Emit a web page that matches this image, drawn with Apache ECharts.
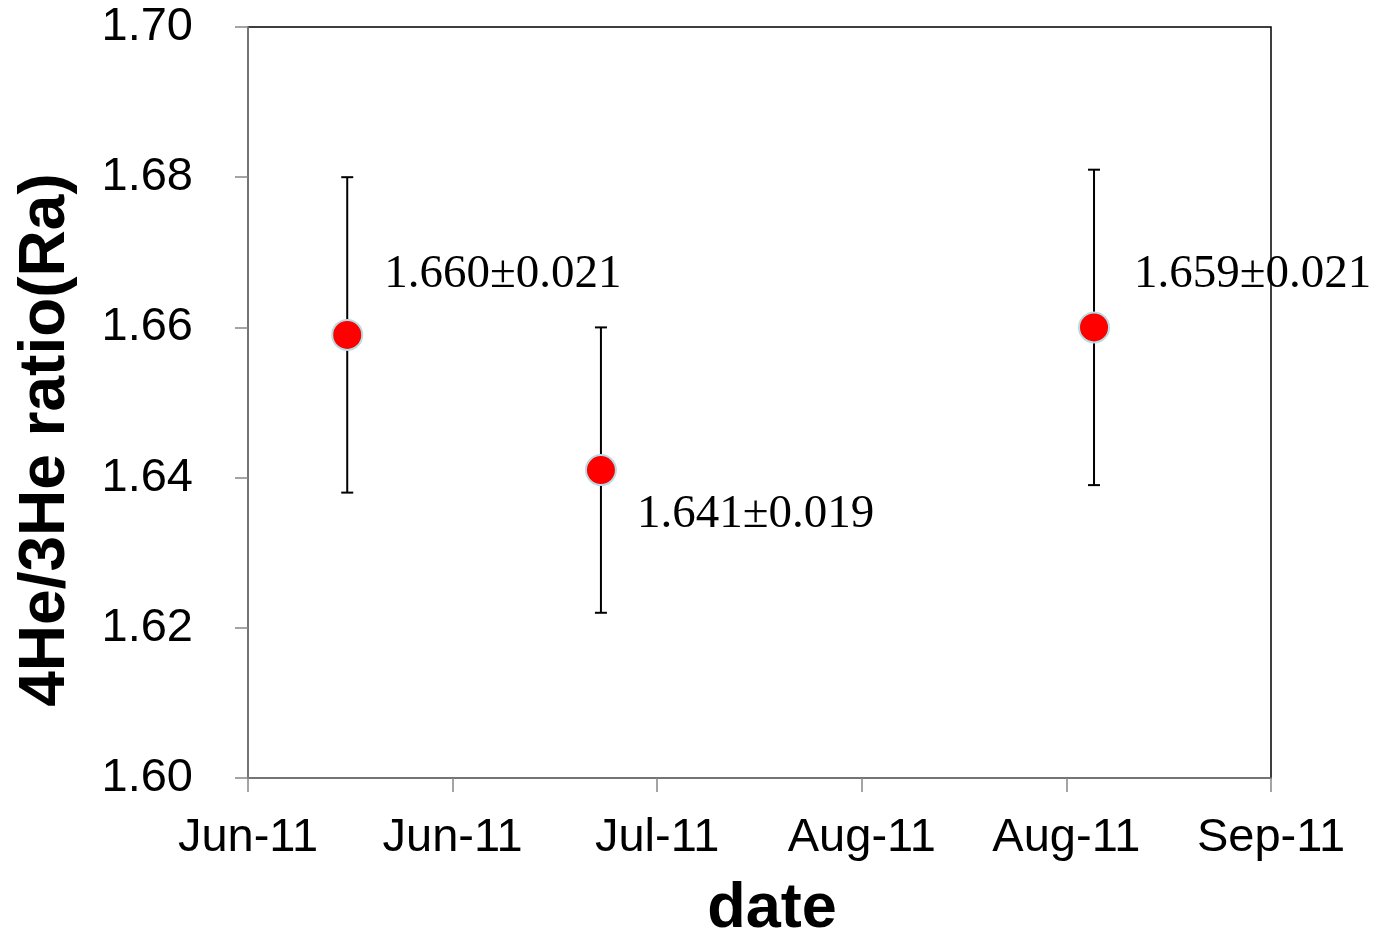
<!DOCTYPE html>
<html>
<head>
<meta charset="utf-8">
<script src="https://cdn.jsdelivr.net/npm/echarts@6/dist/echarts.min.js"></script>
<style>html,body{margin:0;padding:0;background:#fff;}#c{width:1381px;height:936px;}</style>
</head>
<body>
<div id="c"></div>
<script>
// x positions: days after axis start (axis ticks every 20 days)
var dayOffsets = [9.7, 34.5, 82.7];
var ratioValues = [1.659, 1.641, 1.660];
var ratioErrors = [0.021, 0.019, 0.021];
var pointLabels = ['1.660\u00B10.021', '1.641\u00B10.019', '1.659\u00B10.021'];
var xTickLabels = ['Jun-11', 'Jun-11', 'Jul-11', 'Aug-11', 'Aug-11', 'Sep-11'];
var yTickLabels = ['1.60', '1.62', '1.64', '1.66', '1.68', '1.70'];

var labelOffsets = [[21, -60], [20, 45], [24, -53]];

var chart = echarts.init(document.getElementById('c'), null, {renderer: 'canvas'});

var scatterData = dayOffsets.map(function (d, i) {
  return {
    value: [d, ratioValues[i]],
    label: {
      show: true,
      formatter: pointLabels[i],
      position: 'right',
      distance: 0,
      offset: labelOffsets[i]
    }
  };
});
var errData = dayOffsets.map(function (d, i) {
  return [d, ratioValues[i] - ratioErrors[i], ratioValues[i] + ratioErrors[i]];
});

chart.setOption({
  animation: false,
  grid: {left: 248, right: 110, top: 27, bottom: 158, show: true, borderColor: '#000', borderWidth: 1.5, backgroundColor: 'transparent'},
  xAxis: {
    type: 'value', min: 0, max: 100, interval: 20,
    splitLine: {show: false},
    axisLine: {show: true, lineStyle: {color: '#868686', width: 1.5}},
    axisTick: {show: true, length: 14, lineStyle: {color: '#868686', width: 1.5}},
    axisLabel: {
      color: '#000', fontFamily: 'Liberation Sans, Arial, sans-serif', fontSize: 47, margin: 37,
      formatter: function (v) { return xTickLabels[Math.round(v / 20)]; }
    }
  },
  yAxis: {
    type: 'value', min: 1.60, max: 1.70, interval: 0.02,
    splitLine: {show: false},
    axisLine: {show: true, lineStyle: {color: '#868686', width: 1.5}},
    axisTick: {show: true, length: 13, lineStyle: {color: '#868686', width: 1.5}},
    axisLabel: {
      color: '#000', fontFamily: 'Liberation Sans, Arial, sans-serif', fontSize: 47, margin: 55,
      formatter: function (v) { return yTickLabels[Math.round((v - 1.60) / 0.02)]; }
    }
  },
  graphic: [
    {type: 'text', x: 46, y: 440, rotation: Math.PI / 2,
     style: {text: '4He/3He ratio(Ra)', font: 'bold 64px "Liberation Sans", Arial, sans-serif', fill: '#000', align: 'center', verticalAlign: 'middle', textAlign: 'center', textVerticalAlign: 'middle'}},
    {type: 'text', x: 772, y: 910,
     style: {text: 'date', font: 'bold 63px "Liberation Sans", Arial, sans-serif', fill: '#000', align: 'center', verticalAlign: 'middle', textAlign: 'center', textVerticalAlign: 'middle'}}
  ],
  series: [
    {
      type: 'custom',
      data: errData,
      encode: {x: 0, y: [1, 2]},
      z: 2,
      renderItem: function (params, api) {
        var x = api.value(0);
        var lo = api.coord([x, api.value(1)]);
        var hi = api.coord([x, api.value(2)]);
        var cap = 6;
        var st = {stroke: '#000', lineWidth: 2};
        return {
          type: 'group',
          children: [
            {type: 'line', shape: {x1: lo[0], y1: lo[1], x2: hi[0], y2: hi[1]}, style: st},
            {type: 'line', shape: {x1: lo[0] - cap, y1: lo[1], x2: lo[0] + cap, y2: lo[1]}, style: st},
            {type: 'line', shape: {x1: hi[0] - cap, y1: hi[1], x2: hi[0] + cap, y2: hi[1]}, style: st}
          ]
        };
      }
    },
    {
      type: 'scatter',
      data: scatterData,
      symbol: 'circle',
      symbolSize: 30,
      z: 3,
      itemStyle: {color: '#ff0000', borderColor: '#b5dde3', borderWidth: 2, opacity: 1},
      label: {color: '#000', fontFamily: '"Liberation Serif", "Times New Roman", serif', fontSize: 47}
    }
  ]
});
</script>
</body>
</html>
